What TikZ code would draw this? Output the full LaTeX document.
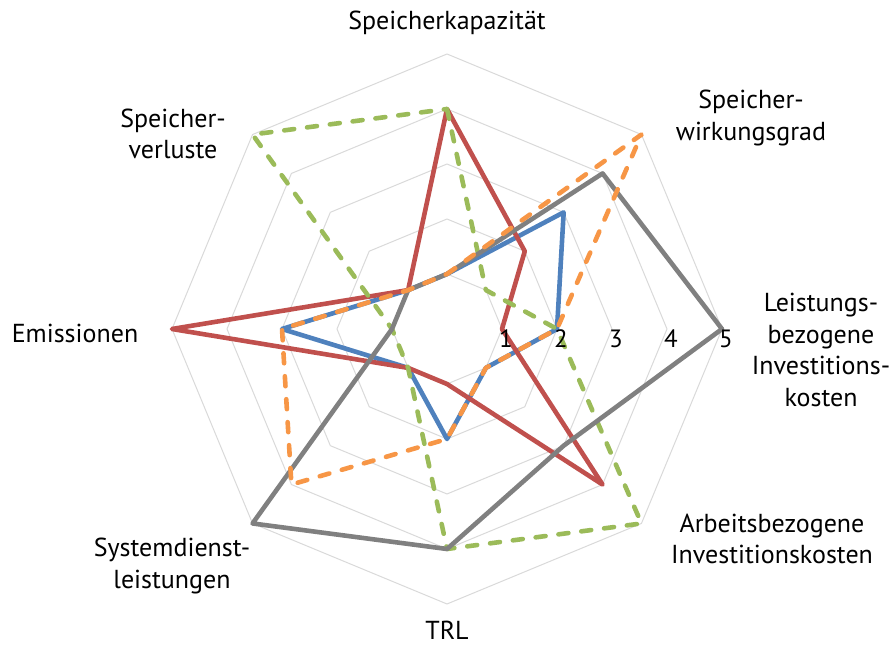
\documentclass[tikz,border=0pt]{standalone}
\usepackage{fontspec}
\setmainfont{PT Sans}
\definecolor{gridgray}{HTML}{D9D9D9}
\definecolor{serblue}{HTML}{4F81BD}
\definecolor{serred}{HTML}{C0504D}
\definecolor{sergreen}{HTML}{9BBB59}
\definecolor{serorange}{HTML}{F79646}
\definecolor{sergray}{HTML}{808080}
\tikzset{
  ring/.style={draw=gridgray,line width=1pt},
  serie/.style={line width=4.6pt,line join=round},
  dashserie/.style={serie,line cap=round,dash pattern=on 10pt off 13pt},
  axislabel/.style={align=center,inner sep=0pt,font=\fontsize{26}{31.5}\selectfont},
  ticklabel/.style={inner sep=0pt,font=\fontsize{25}{28}\selectfont}
}
\newcommand{\radar}[9]{%
  \draw[#1] (90:#2)--(45:#3)--(0:#4)--(-45:#5)--(-90:#6)--(-135:#7)--(180:#8)--(135:#9)--cycle;}

\begin{document}
\begin{tikzpicture}[x=1pt,y=1pt]
\useasboundingbox (0,0) rectangle (895,645);
\begin{scope}[shift={(447,316)},x=55pt,y=55pt]
  \foreach \r in {1,...,5}
    \draw[ring] (90:\r)--(45:\r)--(0:\r)--(-45:\r)--(-90:\r)--(-135:\r)--(180:\r)--(135:\r)--cycle;
  \radar{serie,serblue}{1}{3}{2}{1}{2}{1}{3}{1}
  \radar{serie,serred}{4}{2}{1}{4}{1}{1}{5}{1}
  \radar{dashserie,sergreen}{4}{1}{2}{5}{4}{1}{1}{5}
  \radar{serie,sergray}{1}{4}{5}{3}{4}{5}{1}{1}
  \radar{dashserie,serorange}{1}{5}{2}{1}{2}{4}{3}{1}
  \foreach \v in {1,...,5}
    \node[ticklabel] (tick\v) at ([xshift=4pt,yshift=-10pt]0:\v) {\v};
\end{scope}
\node[axislabel] (kapaz) at (447,622) {Speicherkapazität};
\node[axislabel] (wirk) at (751,527) {Speicher-\\wirkungsgrad};
\node[axislabel] (leist) at (821,295) {Leistungs-\\bezogene\\Investitions-\\kosten};
\node[axislabel] (arbeit) at (772,106) {Arbeitsbezogene\\Investitionskosten};
\node[axislabel] (trl) at (447,15) {TRL};
\node[axislabel] (sysdl) at (172,79) {Systemdienst-\\leistungen};
\node[axislabel] (emis) at (75,312) {Emissionen};
\node[axislabel] (verl) at (173,511) {Speicher-\\verluste};
\end{tikzpicture}
\end{document}
